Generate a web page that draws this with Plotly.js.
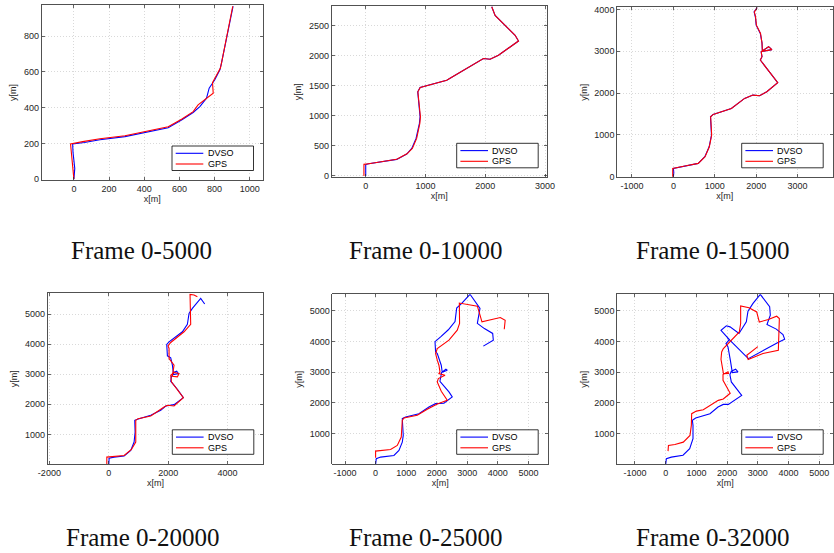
<!DOCTYPE html>
<html>
<head>
<meta charset="utf-8">
<script src="https://cdn.plot.ly/plotly-3.0.1.min.js"></script>
<style>html,body{margin:0;padding:0;background:#fff;}#chart{width:834px;height:553px;}</style>
</head>
<body>
<div id="chart"></div>
<script>
// ---------- DATA ----------
const captions = ["Frame 0-5000","Frame 0-10000","Frame 0-15000","Frame 0-20000","Frame 0-25000","Frame 0-32000"];
const seriesNames = ["DVSO","GPS"];

// Frame 0-5000
const dvso1X = [0, 5, -5, -7, 60, 148, 290, 413, 536, 612, 678, 716, 754, 769, 801, 830, 839, 905];
const dvso1Y = [0, 60, 150, 197, 205, 220, 238, 262, 288, 331, 373, 406, 453, 509, 556, 612, 650, 968];
const gps1X  = [0, -10, -19, 50, 148, 290, 413, 536, 612, 678, 706, 792, 788, 811, 833, 839, 903];
const gps1Y  = [0, 100, 197, 210, 226, 243, 267, 293, 335, 378, 416, 481, 541, 579, 622, 650, 968];

// Frame 0-10000
const dvso2X = [0, 5, 0, 50, 250, 519, 686, 770, 842, 898, 909, 887, 870, 909, 1355, 1467, 1969, 2080, 2220, 2555, 2499, 2164, 2108];
const dvso2Y = [0, 100, 190, 205, 240, 277, 366, 460, 626, 876, 987, 1264, 1403, 1475, 1596, 1663, 1957, 1946, 2012, 2250, 2345, 2677, 2820];
const gps2X  = [-30, -30, 50, 250, 519, 690, 780, 852, 905, 915, 893, 872, 912, 1355, 1467, 1969, 2080, 2220, 2555, 2499, 2164, 2108];
const gps2Y  = [0, 194, 205, 240, 280, 370, 460, 626, 876, 987, 1264, 1403, 1475, 1596, 1663, 1957, 1946, 2012, 2250, 2345, 2677, 2820];

// Frame 0-15000
const dvso3X = [0, 10, 0, 280, 600, 760, 864, 920, 896, 960, 1400, 1720, 1920, 2080, 2256, 2520, 2100, 2140, 2120, 2300, 2380, 2150, 2140, 2100, 2040, 2000, 1980, 1950, 1990, 2024];
const dvso3Y = [0, 100, 199, 255, 319, 478, 717, 996, 1434, 1490, 1633, 1873, 1952, 1936, 2032, 2247, 2790, 2870, 2990, 3110, 3040, 3000, 3200, 3426, 3560, 3625, 3825, 3944, 4000, 4048];
const gps3X  = [-16, -16, 280, 600, 765, 868, 925, 900, 962, 1400, 1720, 1920, 2080, 2256, 2520, 2100, 2140, 2120, 2300, 2380, 2150, 2140, 2105, 2045, 2005, 1985, 1955, 1995, 2024];
const gps3Y  = [0, 199, 255, 319, 478, 717, 996, 1434, 1490, 1633, 1873, 1952, 1936, 2032, 2247, 2790, 2870, 2990, 3110, 3040, 3000, 3200, 3426, 3560, 3625, 3825, 3944, 4000, 4048];

// Frame 0-20000
const dvso4X = [0, 11, 179, 516, 740, 852, 886, 874, 964, 1413, 1749, 1917, 2197, 2511, 2309, 2085, 2108, 2175, 2287, 2343, 2180, 2141, 2085, 1973, 1951, 2029, 2478, 2646, 2702, 2814, 3094, 3229];
const dvso4Y = [0, 211, 244, 278, 467, 744, 1078, 1467, 1500, 1633, 1800, 1944, 1989, 2222, 2500, 2767, 2911, 3056, 3100, 3022, 2990, 3300, 3544, 3611, 3989, 4078, 4411, 4656, 5022, 5189, 5522, 5333];
const gps4X  = [-67, -67, 516, 762, 908, 908, 987, 1413, 1861, 1973, 2197, 2511, 2108, 2085, 2200, 2365, 2309, 2140, 2197, 2029, 2029, 1996, 2085, 2534, 2758, 2735, 2870, 2982];
const gps4Y  = [0, 244, 300, 500, 744, 1467, 1522, 1611, 1911, 1967, 1944, 2222, 2744, 2967, 3060, 3022, 2911, 2930, 3300, 3522, 3856, 3944, 4056, 4411, 4656, 5655, 5633, 5578];

// Frame 0-25000
const dvso5X = [0, 22, 164, 600, 764, 873, 905, 873, 982, 1418, 1745, 1963, 2236, 2508, 2400, 2105, 2159, 2300, 2345, 2180, 2148, 2018, 1963, 1944, 2127, 2380, 2599, 2653, 2817, 3089, 3416, 3329, 3560, 3831, 3852, 3688, 3525];
const dvso5Y = [0, 185, 239, 293, 457, 728, 946, 1489, 1543, 1652, 1870, 1978, 1990, 2196, 2359, 2707, 2989, 3100, 3065, 3000, 3228, 3609, 3663, 3993, 4152, 4382, 4650, 5087, 5240, 5535, 5078, 4589, 4420, 4262, 4044, 3957, 3849];
const gps5X  = [0, 0, 490, 709, 840, 873, 927, 1363, 1690, 2018, 2345, 2148, 2018, 2052, 2271, 2072, 2107, 2072, 2018, 1963, 2018, 2400, 2672, 2748, 2740, 2900, 3330, 3400, 3480, 4080, 4240, 4210];
const gps5Y  = [220, 435, 489, 620, 891, 1435, 1511, 1598, 1793, 1967, 2087, 2380, 2685, 2794, 2903, 2957, 3011, 3228, 3391, 3609, 3772, 4043, 4370, 4587, 5250, 5220, 5150, 4913, 4640, 4780, 4690, 4400];

// Frame 0-32000
const dvso6X = [0, 22, 184, 564, 781, 889, 889, 868, 976, 1442, 1703, 1875, 2040, 2474, 2136, 2090, 2136, 2277, 2353, 2169, 2104, 2028, 1963, 2071, 1800, 1974, 2094, 2386, 2625, 2679, 2842, 3080, 3384, 3406, 3297, 3601, 3818, 3872, 3655, 2690, 2071, 2000];
const dvso6Y = [0, 185, 239, 300, 511, 837, 1272, 1435, 1511, 1651, 1870, 1954, 1954, 2247, 2685, 2924, 3033, 3098, 3011, 2989, 3391, 3826, 3932, 4062, 4360, 4511, 4476, 4261, 4641, 4989, 5239, 5533, 5130, 4859, 4554, 4402, 4228, 4076, 3967, 3443, 4062, 4130];
const gps6X  = [76, 90, 300, 573, 791, 835, 846, 1000, 1224, 1549, 1712, 1875, 2100, 1866, 1866, 2028, 2045, 1880, 1844, 1800, 1822, 1877, 2397, 2440, 2440, 2712, 2962, 3047, 3341, 3613, 3700, 3667, 3167, 2685, 2640, 3000];
const gps6Y  = [435, 620, 650, 726, 945, 1272, 1651, 1735, 1782, 1997, 2085, 2128, 2315, 2739, 2924, 3011, 2960, 2955, 3141, 3420, 3658, 3770, 4310, 4583, 5155, 5098, 4961, 4635, 4713, 4821, 4745, 3713, 3609, 3410, 3554, 3835];

// axis limits and ticks
const xRanges = [[-183, 1075], [-569, 3027], [-1362, 3848], [-2057, 5202], [-1417, 5651], [-1585, 5456]];
const yRanges = [[-5, 975], [-22, 2833], [-14, 4052], [15, 5690], [15, 5535], [15, 5535]];
const xTicks = [[0,200,400,600,800,1000],[0,1000,2000,3000],[-1000,0,1000,2000,3000],[-2000,0,2000,4000],[-1000,0,1000,2000,3000,4000,5000],[-1000,0,1000,2000,3000,4000,5000]];
const yTicks = [[0,200,400,600,800],[0,500,1000,1500,2000,2500],[0,1000,2000,3000,4000],[1000,2000,3000,4000,5000],[1000,2000,3000,4000,5000],[1000,2000,3000,4000,5000]];

const dvsoX = [dvso1X, dvso2X, dvso3X, dvso4X, dvso5X, dvso6X];
const dvsoY = [dvso1Y, dvso2Y, dvso3Y, dvso4Y, dvso5Y, dvso6Y];
const gpsX = [gps1X, gps2X, gps3X, gps4X, gps5X, gps6X];
const gpsY = [gps1Y, gps2Y, gps3Y, gps4Y, gps5Y, gps6Y];

// ---------- LAYOUT ----------
const W = 834, H = 553;
const fx = p => p / W, fy = p => 1 - p / H;
// plot-area boxes in pixels [left, right, top, bottom]
const boxes = [
  [41.7, 263, 5, 180], [331.7, 546.7, 6, 177.3], [617, 832.7, 7.3, 177.3],
  [47.7, 263.3, 293.3, 464], [332.3, 548.3, 294.3, 464], [617, 833.3, 294.3, 464]
];
// legend boxes in pixels [left, top]
const legBoxes = [[172, 146], [456.7, 143.3], [741.7, 143.3], [172.3, 429.8], [456.7, 429.8], [741.7, 429.8]];
const capPos = [[141.7, 250], [425, 250], [712, 250], [142, 537], [425, 537], [712, 537]];

const tickFont = {family: 'Liberation Sans, Arial, Helvetica, sans-serif', size: 9, color: '#262626'};
const fmt = v => (v < 0 ? '-' + Math.abs(v) : String(v));

const data = [];
const layout = {
  width: W, height: H, margin: {l: 0, r: 0, t: 0, b: 0},
  paper_bgcolor: '#fff', plot_bgcolor: '#fff', showlegend: false,
  shapes: [], annotations: []
};

for (let i = 0; i < 6; i++) {
  const n = i === 0 ? '' : String(i + 1);
  const b = boxes[i];
  const common = {
    autorange: false, ticks: 'inside', ticklen: 3, tickcolor: '#262626', tickwidth: 0.7,
    showline: true, linecolor: '#262626', linewidth: 0.8, mirror: 'ticks',
    showgrid: true, gridcolor: '#cfcfcf', griddash: '1px,2px', gridwidth: 0.8,
    zeroline: false, tickfont: tickFont, fixedrange: true, tickmode: 'array'
  };
  layout['xaxis' + n] = Object.assign({}, common, {
    domain: [fx(b[0]), fx(b[1])], range: xRanges[i], anchor: 'y' + n,
    tickvals: xTicks[i], ticktext: xTicks[i].map(fmt),
    title: {text: 'x[m]', font: tickFont, standoff: 2}
  });
  layout['yaxis' + n] = Object.assign({}, common, {
    domain: [fy(b[3]), fy(b[2])], range: yRanges[i], anchor: 'x' + n,
    tickvals: yTicks[i], ticktext: yTicks[i].map(fmt),
    title: {text: 'y[m]', font: tickFont, standoff: 5}
  });
  data.push({x: dvsoX[i], y: dvsoY[i], xaxis: 'x' + n, yaxis: 'y' + n, type: 'scatter', mode: 'lines',
    name: seriesNames[0], line: {color: '#0000ff', width: 1.1}, hoverinfo: 'skip'});
  data.push({x: gpsX[i], y: gpsY[i], xaxis: 'x' + n, yaxis: 'y' + n, type: 'scatter', mode: 'lines',
    name: seriesNames[1], line: {color: '#ff0000', width: 1.1}, hoverinfo: 'skip'});

  // legend box
  const [lx, ly] = legBoxes[i];
  layout.shapes.push({type: 'rect', xref: 'paper', yref: 'paper', x0: fx(lx), x1: fx(lx + 81.5), y0: fy(ly + 24.5), y1: fy(ly),
    line: {color: '#000', width: 0.8}, fillcolor: '#fff', layer: 'above'});
  const cols = ['#0000ff', '#ff0000'];
  for (let k = 0; k < 2; k++) {
    const yy = ly + 7.3 + k * 10.7;
    layout.shapes.push({type: 'line', xref: 'paper', yref: 'paper', x0: fx(lx + 3.7), x1: fx(lx + 31.3), y0: fy(yy), y1: fy(yy),
      line: {color: cols[k], width: 1.1}, layer: 'above'});
    layout.annotations.push({xref: 'paper', yref: 'paper', x: fx(lx + 33.5), y: fy(yy), xanchor: 'left', yanchor: 'middle',
      text: seriesNames[k], showarrow: false, font: {family: 'Liberation Sans, Arial, sans-serif', size: 9, color: '#000'}});
  }
  // caption
  layout.annotations.push({xref: 'paper', yref: 'paper', x: fx(capPos[i][0]), y: fy(capPos[i][1]), xanchor: 'center', yanchor: 'middle',
    text: captions[i], showarrow: false, font: {family: 'Liberation Serif, Times New Roman, serif', size: 25, color: '#111'}});
}

Plotly.newPlot('chart', data, layout, {staticPlot: true, displayModeBar: false});
</script>
</body>
</html>
